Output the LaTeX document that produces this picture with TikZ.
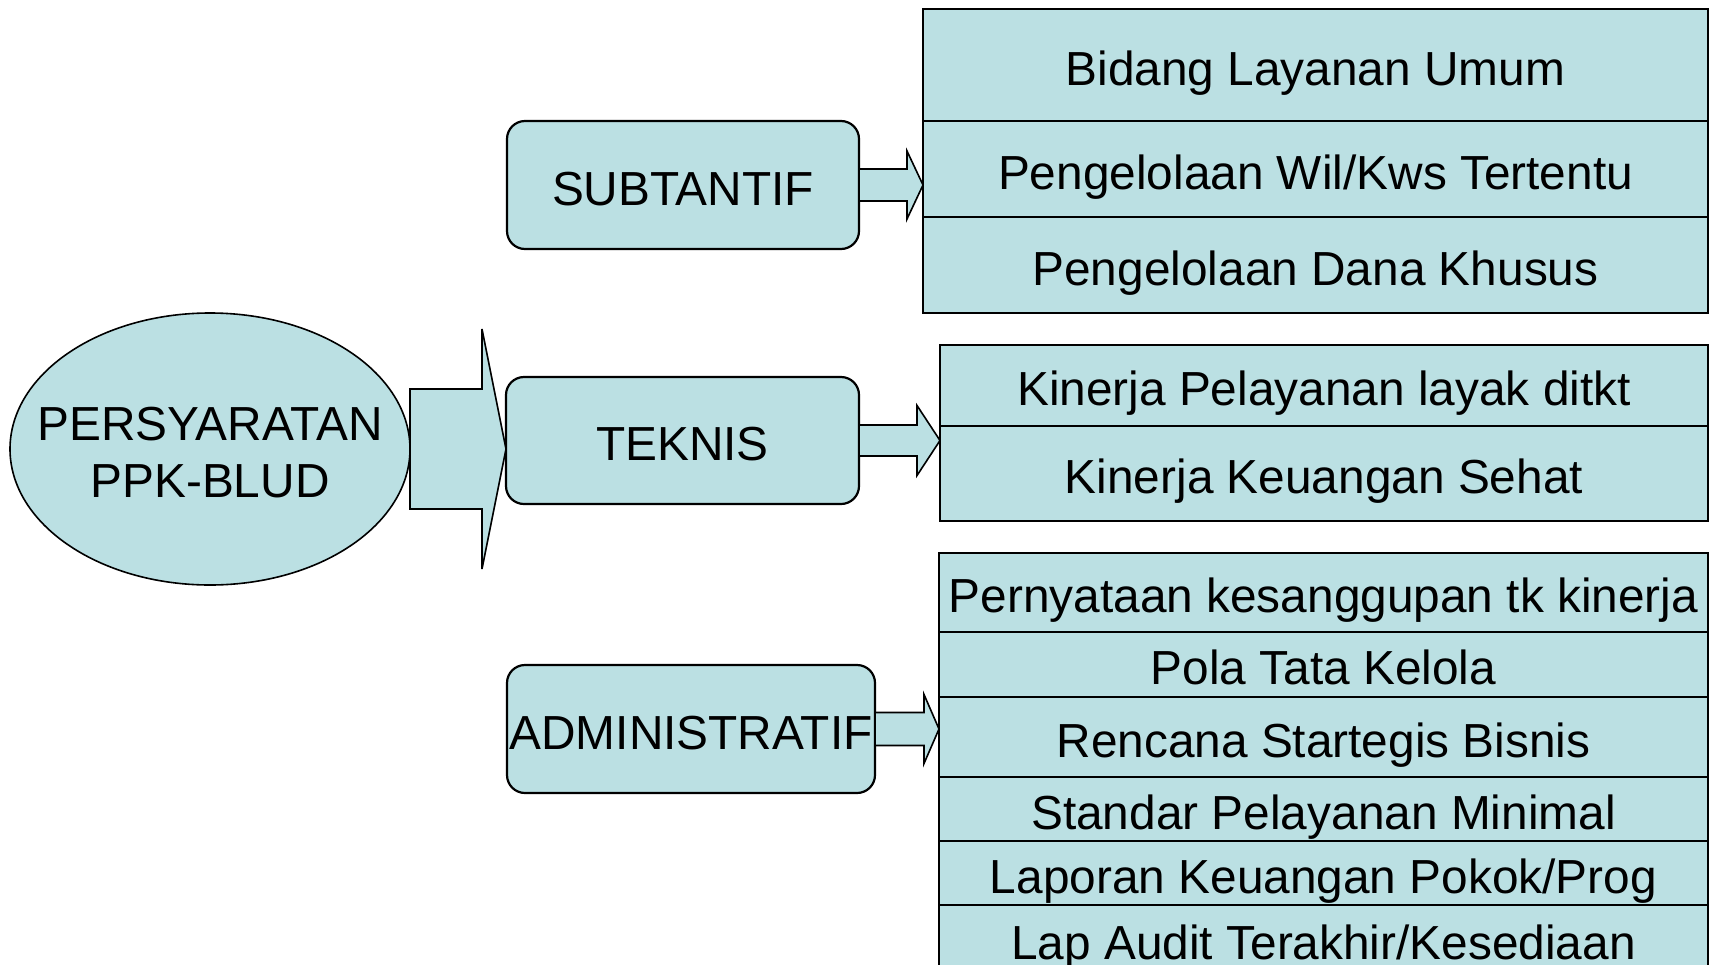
\documentclass[tikz,border=0pt]{standalone}
\usepackage{fontspec}
\setmainfont{Liberation Sans}
\usetikzlibrary{shapes.geometric,calc}
\definecolor{boxfill}{RGB}{187,224,227}
\tikzset{
  every node/.style={font=\fontsize{47.8}{57}\selectfont, inner sep=0pt, outer sep=0pt},
  oneline/.style={text height=40pt, text depth=0pt},
  oval/.style={ellipse, draw=black, fill=boxfill, line width=1.6pt},
  ovaltext/.style={align=center, yshift=-3.5pt},
  roundbox/.style={oneline, rectangle, rounded corners=18pt, draw=black, fill=boxfill, line width=2.2pt},
  cell/.style={oneline, rectangle, draw=black, fill=boxfill, line width=2.6pt, anchor=north west},
  blockarrow/.style={draw=black, fill=boxfill, line width=1.6pt, line join=miter},
}
% block arrow from #1 to the tip #2: shaft half-height #3, head half-height #4, head length #5
\newcommand{\blockarrow}[5]{%
  \draw[blockarrow] let \p1=(#1), \p2=(#2) in
    (\x1,\y1+#3) -- (\x2-#5,\y1+#3) -- (\x2-#5,\y1+#4) -- (\x2,\y1)
    -- (\x2-#5,\y1-#4) -- (\x2-#5,\y1-#3) -- (\x1,\y1-#3) -- cycle;}
\begin{document}
\begin{tikzpicture}[x=1pt,y=-1pt]
\clip (0,0) rectangle (1715,964);

% left: main requirement
\node[oval, minimum width=400pt, minimum height=272pt,
      label={[ovaltext]center:PERSYARATAN\\PPK-BLUD}] (main) at (210,449) {};

% middle: three groups
\node[roundbox, minimum width=352pt, minimum height=128pt] (sub) at (683,185) {SUBTANTIF};
\node[roundbox, minimum width=353pt, minimum height=127pt] (tek) at (682.5,440.5) {TEKNIS};
\node[roundbox, minimum width=368pt, minimum height=128pt] (adm) at (691,729) {ADMINISTRATIF};

% right: substantive items
\node[cell, minimum width=785pt, minimum height=112pt] (s1) at (923,9) {Bidang Layanan Umum};
\node[cell, minimum width=785pt, minimum height=96pt] (s2) at (923,121) {Pengelolaan Wil/Kws Tertentu};
\node[cell, minimum width=785pt, minimum height=96pt] (s3) at (923,217) {Pengelolaan Dana Khusus};

% right: technical items
\node[cell, minimum width=768pt, minimum height=81pt] (t1) at (940,345) {Kinerja Pelayanan layak ditkt};
\node[cell, minimum width=768pt, minimum height=95pt] (t2) at (940,426) {Kinerja Keuangan Sehat};

% right: administrative items
\node[cell, minimum width=769pt, minimum height=79pt] (a1) at (939,553) {Pernyataan kesanggupan tk kinerja};
\node[cell, minimum width=769pt, minimum height=65pt] (a2) at (939,632) {Pola Tata Kelola};
\node[cell, minimum width=769pt, minimum height=80pt] (a3) at (939,697) {Rencana Startegis Bisnis};
\node[cell, minimum width=769pt, minimum height=64pt] (a4) at (939,777) {Standar Pelayanan Minimal};
\node[cell, minimum width=769pt, minimum height=64pt] (a5) at (939,841) {Laporan Keuangan Pokok/Prog};
\node[cell, minimum width=769pt, minimum height=68pt] (a6) at (939,905) {Lap Audit Terakhir/Kesediaan};

% block arrows
\blockarrow{main.east}{tek.west}{60}{120}{24}
\blockarrow{sub.east}{s1.west |- sub.east}{16}{34}{16}
\blockarrow{tek.east}{t1.west |- tek.east}{15.5}{35}{23}
\blockarrow{adm.east}{a1.west |- adm.east}{16.5}{34.5}{15}
\end{tikzpicture}
\end{document}
